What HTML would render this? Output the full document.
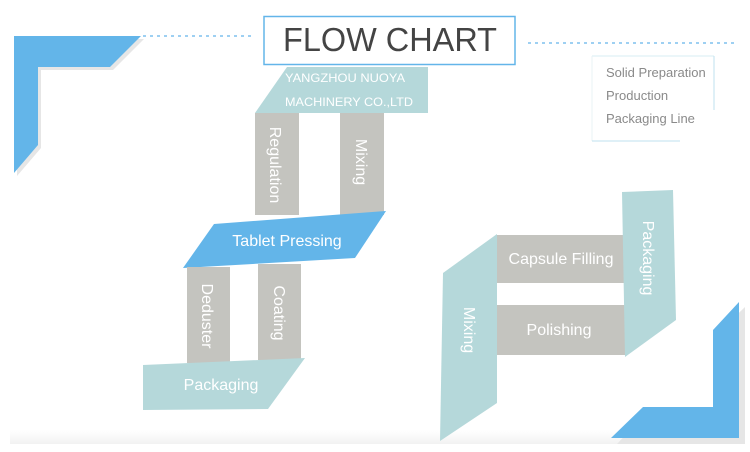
<!DOCTYPE html>
<html><head><meta charset="utf-8"><style>
html,body{margin:0;padding:0;background:#fff;}
svg{display:block;font-family:"Liberation Sans",Arial,sans-serif;}
</style></head><body>
<svg width="750" height="452" viewBox="0 0 750 452" xmlns="http://www.w3.org/2000/svg">
<defs>
<linearGradient id="bg" x1="0" y1="0" x2="0" y2="1"><stop offset="0" stop-color="#fff"/><stop offset="1" stop-color="#f2f2f2"/></linearGradient>
</defs>
<rect x="10" y="430" width="735" height="14" fill="url(#bg)"/>
<!-- top-left L -->
<polygon points="17,39 144,39 113,70 41,70 41,148 17,176" fill="#e6e6e6"/>
<polygon points="14,36 141,36 110,67 38,67 38,145 14,173" fill="#63b5e9"/>
<line x1="143" y1="36" x2="252" y2="36" stroke="#63b5e9" stroke-width="1.2" stroke-dasharray="3,4"/>
<line x1="528" y1="43" x2="738" y2="43" stroke="#63b5e9" stroke-width="1.2" stroke-dasharray="3,4"/>
<rect x="264" y="16.5" width="251" height="48" fill="#fff" stroke="#63b5e9" stroke-width="1.5"/>
<text x="390" y="51" text-anchor="middle" font-size="33" fill="#444" textLength="214" lengthAdjust="spacingAndGlyphs">FLOW CHART</text>
<!-- info box -->
<line x1="592" y1="56" x2="714" y2="56" stroke="#d7edf3"/>
<line x1="714" y1="56" x2="714" y2="110" stroke="#bfe2ef"/>
<line x1="592" y1="56" x2="592" y2="141" stroke="#e8f3f6"/>
<line x1="592" y1="141" x2="680" y2="141" stroke="#bfe2ef"/>
<g font-size="13" fill="#8a8a8a">
<text x="606" y="77">Solid Preparation</text>
<text x="606" y="100">Production</text>
<text x="606" y="123">Packaging Line</text>
</g>
<!-- company -->
<polygon points="287,67 428,67 428,113 255,113" fill="#b5d8da"/>
<text x="285" y="82" font-size="12" fill="#fff" textLength="120" lengthAdjust="spacingAndGlyphs">YANGZHOU NUOYA</text>
<text x="285" y="106" font-size="12" fill="#fff" textLength="128" lengthAdjust="spacingAndGlyphs">MACHINERY CO.,LTD</text>
<!-- upper bars -->
<rect x="255" y="113" width="44" height="102" fill="#c4c4bf"/>
<rect x="340" y="113" width="44" height="102" fill="#c4c4bf"/>
<text transform="translate(270,165) rotate(90)" text-anchor="middle" font-size="16" fill="#fff">Regulation</text>
<text transform="translate(356,162) rotate(90)" text-anchor="middle" font-size="16" fill="#fff">Mixing</text>
<!-- tablet pressing -->
<polygon points="214,224 386,211 355,258 183,268" fill="#63b5e9"/>
<text x="287" y="246" text-anchor="middle" font-size="16" fill="#fff">Tablet  Pressing</text>
<!-- lower bars -->
<rect x="187" y="267" width="43" height="96" fill="#c4c4bf"/>
<rect x="258" y="264" width="43" height="96" fill="#c4c4bf"/>
<text transform="translate(202,316) rotate(90)" text-anchor="middle" font-size="16" fill="#fff">Deduster</text>
<text transform="translate(274,313) rotate(90)" text-anchor="middle" font-size="16" fill="#fff">Coating</text>
<polygon points="143,365 305,358 268,409 143,410" fill="#b5d8da"/>
<text x="221" y="390" text-anchor="middle" font-size="16" fill="#fff">Packaging</text>
<!-- right flow -->
<rect x="496" y="235" width="130" height="48" fill="#c4c4bf"/>
<rect x="496" y="305" width="130" height="50" fill="#c4c4bf"/>
<text x="561" y="264" text-anchor="middle" font-size="16" fill="#fff">Capsule Filling</text>
<text x="559" y="335" text-anchor="middle" font-size="16" fill="#fff">Polishing</text>
<polygon points="443,273 497,234 497,403 440,441" fill="#b5d8da"/>
<text transform="translate(464,330) rotate(90)" text-anchor="middle" font-size="16" fill="#fff">Mixing</text>
<polygon points="622,192 673,190 676,320 625,357" fill="#b5d8da"/>
<text transform="translate(643,258) rotate(90)" text-anchor="middle" font-size="16" fill="#fff">Packaging</text>
<!-- bottom-right L -->
<polygon points="617,444 647,412 716,412 716,335 745,307 745,444" fill="#e6e6e6"/>
<polygon points="611,438 643,407 713,407 713,330 739,302 739,438" fill="#63b5e9"/>
</svg>
</body></html>
